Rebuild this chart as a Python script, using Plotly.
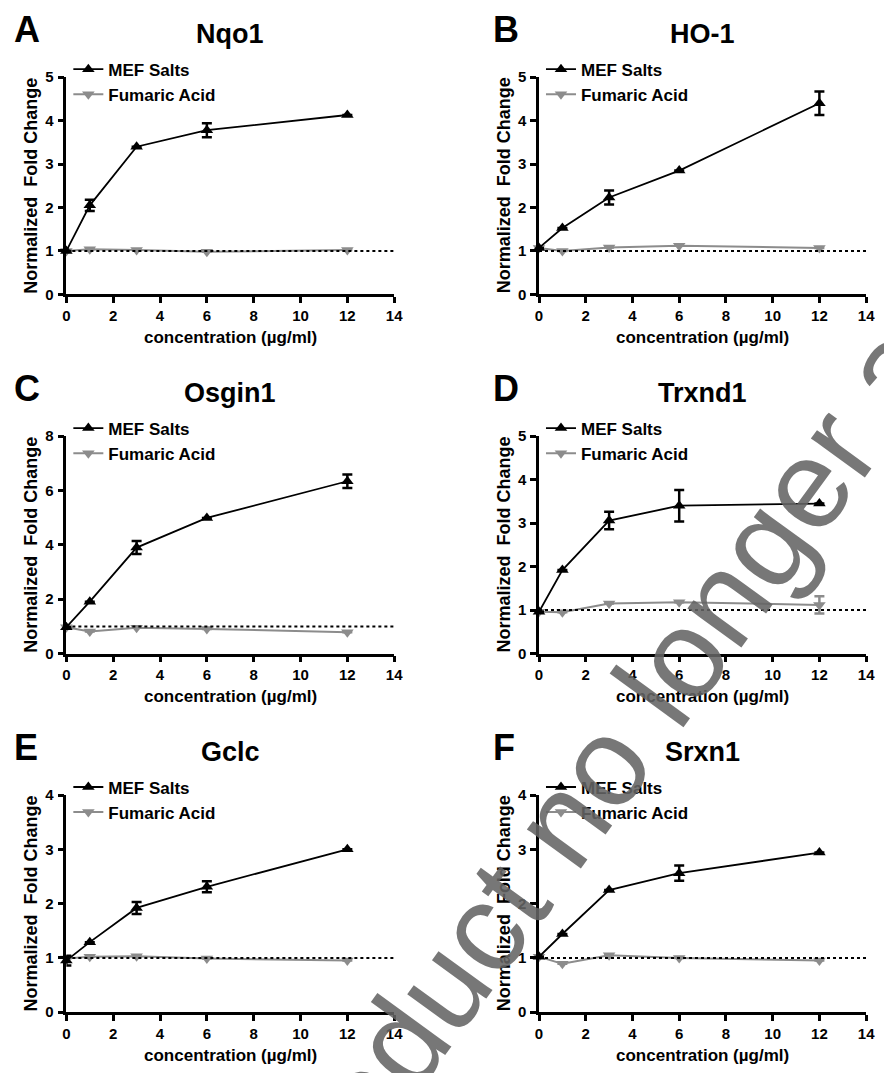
import plotly.graph_objects as go

# ---------------- data ----------------
X_CONC = [0, 1, 3, 6, 12]
PANEL_LETTERS = ["A", "B", "C", "D", "E", "F"]
GENES = ["Nqo1", "HO-1", "Osgin1", "Trxnd1", "Gclc", "Srxn1"]
Y_MAX = [5, 5, 8, 5, 4, 4]
Y_DTICK = [1, 1, 2, 1, 1, 1]
X_TICKS = [0, 2, 4, 6, 8, 10, 12, 14]
BASELINE = 1.0

MEF_NQO1 = [1.00, 2.05, 3.40, 3.78, 4.13]
MEF_NQO1_ERR = [0.00, 0.13, 0.00, 0.16, 0.00]
FA_NQO1 = [1.00, 1.04, 1.02, 0.98, 1.02]
FA_NQO1_ERR = [0, 0, 0, 0, 0]

MEF_HO1 = [1.07, 1.53, 2.23, 2.85, 4.40]
MEF_HO1_ERR = [0.00, 0.00, 0.16, 0.00, 0.27]
FA_HO1 = [1.07, 1.00, 1.08, 1.12, 1.07]
FA_HO1_ERR = [0, 0, 0, 0, 0]

MEF_OSGIN1 = [0.97, 1.91, 3.90, 4.99, 6.34]
MEF_OSGIN1_ERR = [0.00, 0.00, 0.24, 0.00, 0.25]
FA_OSGIN1 = [0.97, 0.81, 0.95, 0.91, 0.79]
FA_OSGIN1_ERR = [0, 0, 0, 0, 0]

MEF_TRXND1 = [0.96, 1.92, 3.06, 3.40, 3.45]
MEF_TRXND1_ERR = [0.00, 0.00, 0.20, 0.36, 0.00]
FA_TRXND1 = [0.96, 0.95, 1.15, 1.18, 1.12]
FA_TRXND1_ERR = [0, 0, 0, 0, 0.20]

MEF_GCLC = [0.95, 1.29, 1.92, 2.31, 3.00]
MEF_GCLC_ERR = [0.09, 0.00, 0.11, 0.10, 0.00]
FA_GCLC = [0.99, 1.02, 1.03, 0.99, 0.95]
FA_GCLC_ERR = [0, 0, 0, 0, 0]

MEF_SRXN1 = [1.02, 1.44, 2.25, 2.56, 2.94]
MEF_SRXN1_ERR = [0.00, 0.00, 0.00, 0.14, 0.00]
FA_SRXN1 = [1.02, 0.89, 1.05, 1.00, 0.95]
FA_SRXN1_ERR = [0, 0, 0, 0, 0]

MEF = [MEF_NQO1, MEF_HO1, MEF_OSGIN1, MEF_TRXND1, MEF_GCLC, MEF_SRXN1]
MEF_ERR = [MEF_NQO1_ERR, MEF_HO1_ERR, MEF_OSGIN1_ERR, MEF_TRXND1_ERR, MEF_GCLC_ERR, MEF_SRXN1_ERR]
FA = [FA_NQO1, FA_HO1, FA_OSGIN1, FA_TRXND1, FA_GCLC, FA_SRXN1]
FA_ERR = [FA_NQO1_ERR, FA_HO1_ERR, FA_OSGIN1_ERR, FA_TRXND1_ERR, FA_GCLC_ERR, FA_SRXN1_ERR]

SERIES_NAMES = ["MEF Salts", "Fumaric Acid"]
X_TITLE = "concentration (µg/ml)"
Y_TITLE = "Normalized  Fold Change"
WATERMARK = "product no longer available"

# ---------------- layout geometry ----------------
W, H = 884, 1073
COL_PX = [(63.3, 396.0), (543.0, 875.0)]
LETTER_LEFT_PX = [8.0, 494.0]
ROW_PX = [(69.3, 290.0), (434.0, 655.0), (798.7, 1019.3)]

FONT = "Liberation Sans, Arial, sans-serif"
GRAY = "#8c8c8c"


def px_x(p):
    return p / W


def px_y(p):
    return 1 - p / H


fig = go.Figure()
annotations = []
shapes = []
layout_axes = {}

for i in range(6):
    r, c = divmod(i, 2)
    n = i + 1
    xa = "x" if n == 1 else f"x{n}"
    ya = "y" if n == 1 else f"y{n}"
    leg = "legend" if n == 1 else f"legend{n}"
    x0p, x1p = COL_PX[c]
    ytp, ybp = ROW_PX[r]

    fig.add_trace(go.Scatter(
        x=X_CONC, y=FA[i], name=SERIES_NAMES[1], mode="lines+markers",
        xaxis=xa, yaxis=ya, legend=leg, legendrank=2,
        line=dict(color=GRAY, width=2),
        marker=dict(symbol="triangle-down", size=11, color=GRAY),
        error_y=dict(type="data", array=FA_ERR[i], visible=True,
                     color=GRAY, thickness=2.5, width=5),
        cliponaxis=False,
    ))
    fig.add_trace(go.Scatter(
        x=X_CONC, y=MEF[i], name=SERIES_NAMES[0], mode="lines+markers",
        xaxis=xa, yaxis=ya, legend=leg, legendrank=1,
        line=dict(color="black", width=1.8),
        marker=dict(symbol="triangle-up", size=11, color="black"),
        error_y=dict(type="data", array=MEF_ERR[i], visible=True,
                     color="black", thickness=2.5, width=5),
        cliponaxis=False,
    ))

    shapes.append(dict(type="line", xref=xa, yref=ya, x0=X_TICKS[0], x1=X_TICKS[-1],
                       y0=BASELINE, y1=BASELINE, layer="above",
                       line=dict(color="black", width=2, dash="dot")))

    axis_common = dict(showgrid=False, zeroline=False, showline=True,
                       linecolor="black", linewidth=2.5, ticks="outside",
                       ticklen=6, tickwidth=2.5, tickcolor="black",
                       tickfont=dict(family=FONT, size=15, color="black", weight="bold"))
    layout_axes["xaxis" if n == 1 else f"xaxis{n}"] = dict(
        axis_common, domain=[px_x(x0p), px_x(x1p)], range=[X_TICKS[0], X_TICKS[-1]],
        tickvals=X_TICKS, anchor=ya)
    layout_axes["yaxis" if n == 1 else f"yaxis{n}"] = dict(
        axis_common, domain=[px_y(ybp), px_y(ytp)], range=[0, Y_MAX[i]],
        dtick=Y_DTICK[i], tick0=0, anchor=xa, ticklabelstandoff=1)

    layout_axes[leg] = dict(
        x=px_x(x0p + 2), y=px_y(ytp - 26), xanchor="left", yanchor="top",
        bgcolor="rgba(0,0,0,0)", borderwidth=0, itemwidth=30,
        font=dict(family=FONT, size=17, color="black", weight="bold"),
        tracegroupgap=0, traceorder="normal")

    cx = (x0p + x1p) / 2
    # gene title
    annotations.append(dict(text=GENES[i], x=px_x(cx), y=px_y(ytp - 44),
                            xref="paper", yref="paper", showarrow=False,
                            xanchor="center", yanchor="middle",
                            font=dict(family=FONT, size=27, color="black", weight="bold")))
    # panel letter
    annotations.append(dict(text=PANEL_LETTERS[i], x=px_x(LETTER_LEFT_PX[c]), y=px_y(ytp - 48),
                            xref="paper", yref="paper", showarrow=False,
                            xanchor="left", yanchor="middle",
                            font=dict(family=FONT, size=36, color="black", weight="bold")))
    # y title
    annotations.append(dict(text=Y_TITLE, x=px_x(x0p - 36), y=px_y((ytp + ybp) / 2),
                            xref="paper", yref="paper", showarrow=False, textangle=-90,
                            xanchor="center", yanchor="middle",
                            font=dict(family=FONT, size=18, color="black", weight="bold")))
    # x title
    annotations.append(dict(text=X_TITLE, x=px_x(cx), y=px_y(ybp + 44),
                            xref="paper", yref="paper", showarrow=False,
                            xanchor="center", yanchor="middle",
                            font=dict(family=FONT, size=17, color="black", weight="bold")))

# watermark
annotations.append(dict(text=WATERMARK, x=px_x(724), y=px_y(607), xref="paper", yref="paper",
                        showarrow=False, textangle=-54, xanchor="center", yanchor="middle",
                        font=dict(family=FONT, size=126, color="rgba(100,100,100,0.88)")))

fig.update_layout(
    width=W, height=H, margin=dict(l=0, r=0, t=0, b=0),
    paper_bgcolor="white", plot_bgcolor="white",
    annotations=annotations, shapes=shapes, showlegend=True,
    **layout_axes,
)

fig.write_html("out.html")
